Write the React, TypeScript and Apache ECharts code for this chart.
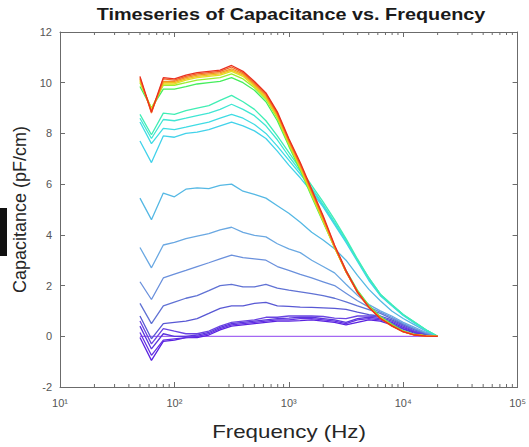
import React, { useEffect, useRef } from "react";
import * as echarts from "echarts";

// Frequencies (Hz) of the sweep
const FREQ_HZ = [50, 63, 80, 100, 126, 158, 200, 251, 316, 398, 501, 631, 794, 1000, 1259, 1585, 1995, 2512, 3162, 3981, 5012, 6310, 7943, 10000, 12589, 15849, 20000];

// Capacitance (pF/cm) per time step, earliest (violet) to latest (red)
const T01 = [0, 0, 0, 0, 0, 0, 0, 0, 0, 0, 0, 0, 0, 0, 0, 0, 0, 0, 0, 0, 0, 0, 0, 0, 0, 0, 0];
const T02 = [-0.05, -0.95, -0.2, -0.15, -0.05, -0.05, 0.05, 0.25, 0.4, 0.45, 0.5, 0.55, 0.6, 0.6, 0.62, 0.65, 0.6, 0.55, 0.45, 0.55, 0.65, 0.6, 0.45, 0.28, 0.12, 0.04, 0];
const T03 = [0.15, -0.75, -0.15, -0.1, -0.05, 0.0, 0.1, 0.3, 0.45, 0.5, 0.55, 0.6, 0.65, 0.65, 0.7, 0.7, 0.65, 0.6, 0.5, 0.65, 0.7, 0.65, 0.5, 0.3, 0.15, 0.05, 0];
const T04 = [0.4, -0.5, 0.1, 0.0, 0.0, 0.05, 0.15, 0.35, 0.5, 0.55, 0.6, 0.65, 0.7, 0.72, 0.75, 0.75, 0.7, 0.65, 0.55, 0.7, 0.75, 0.7, 0.55, 0.35, 0.18, 0.06, 0];
const T05 = [0.6, -0.3, 0.3, 0.2, 0.1, 0.1, 0.2, 0.4, 0.55, 0.6, 0.65, 0.75, 0.75, 0.8, 0.8, 0.8, 0.78, 0.72, 0.7, 0.8, 0.8, 0.75, 0.6, 0.4, 0.2, 0.08, 0];
const T06 = [0.8, -0.1, 0.5, 0.55, 0.6, 0.7, 0.9, 1.1, 1.2, 1.2, 1.3, 1.34, 1.2, 1.18, 1.15, 1.14, 1.12, 1.1, 1.06, 0.95, 0.85, 0.8, 0.65, 0.45, 0.25, 0.1, 0];
const T07 = [1.3, 0.5, 1.2, 1.35, 1.5, 1.6, 1.8, 2.0, 2.05, 1.95, 1.95, 2.05, 1.9, 1.82, 1.75, 1.68, 1.6, 1.5, 1.36, 1.2, 1.05, 0.9, 0.7, 0.48, 0.28, 0.1, 0];
const T08 = [2.15, 1.45, 2.3, 2.45, 2.6, 2.75, 2.9, 3.05, 3.2, 3.1, 3.05, 3.0, 2.75, 2.6, 2.44, 2.3, 2.15, 2.0, 1.7, 1.4, 1.15, 0.95, 0.75, 0.5, 0.3, 0.12, 0];
const T09 = [3.5, 2.7, 3.6, 3.7, 3.85, 3.95, 4.05, 4.2, 4.3, 4.1, 3.98, 3.92, 3.65, 3.45, 3.3, 3.0, 2.75, 2.5, 2.05, 1.62, 1.25, 1.0, 0.8, 0.55, 0.35, 0.15, 0];
const T10 = [5.45, 4.6, 5.65, 5.5, 5.8, 5.85, 5.82, 5.95, 6.0, 5.72, 5.6, 5.45, 5.15, 4.85, 4.5, 4.1, 3.8, 3.45, 3.0, 2.4, 1.85, 1.4, 1.0, 0.7, 0.45, 0.2, 0];
const T11 = [7.7, 6.85, 7.9, 7.85, 8.0, 8.05, 8.15, 8.3, 8.45, 8.3, 8.1, 7.8, 7.3, 6.75, 6.25, 5.7, 5.1, 4.4, 3.7, 2.95, 2.2, 1.6, 1.2, 0.82, 0.52, 0.24, 0];
const T12 = [8.45, 7.6, 8.2, 8.15, 8.25, 8.35, 8.45, 8.6, 8.75, 8.6, 8.35, 8.0, 7.5, 6.95, 6.4, 5.8, 5.15, 4.45, 3.75, 3.0, 2.25, 1.62, 1.22, 0.84, 0.54, 0.25, 0];
const T13 = [8.6, 7.8, 8.55, 8.5, 8.6, 8.7, 8.8, 8.95, 9.15, 8.95, 8.7, 8.3, 7.75, 7.1, 6.5, 5.85, 5.2, 4.5, 3.8, 3.0, 2.3, 1.66, 1.24, 0.86, 0.55, 0.25, 0];
const T14 = [8.75, 7.95, 8.8, 8.75, 8.9, 9.0, 9.1, 9.3, 9.5, 9.25, 8.95, 8.5, 7.9, 7.25, 6.6, 5.95, 5.3, 4.6, 3.85, 3.05, 2.3, 1.66, 1.25, 0.86, 0.56, 0.26, 0];
const T15 = [9.85, 9.0, 9.75, 9.75, 9.85, 9.95, 10.0, 10.05, 10.2, 10.0, 9.7, 9.25, 8.5, 7.5, 6.55, 5.5, 4.5, 3.5, 2.6, 1.82, 1.22, 0.78, 0.48, 0.22, 0.08, 0.03, 0];
const T16 = [10.0, 9.0, 9.9, 9.9, 10.0, 10.1, 10.15, 10.2, 10.35, 10.15, 9.8, 9.35, 8.6, 7.55, 6.6, 5.55, 4.55, 3.5, 2.55, 1.78, 1.18, 0.75, 0.45, 0.2, 0.07, 0.02, 0];
const T17 = [10.05, 8.95, 9.95, 9.95, 10.1, 10.2, 10.25, 10.3, 10.45, 10.25, 9.85, 9.4, 8.65, 7.6, 6.65, 5.6, 4.55, 3.5, 2.55, 1.75, 1.15, 0.72, 0.42, 0.18, 0.06, 0.02, 0];
const T18 = [10.1, 8.9, 10.0, 10.0, 10.15, 10.25, 10.3, 10.35, 10.5, 10.3, 9.9, 9.45, 8.7, 7.65, 6.7, 5.65, 4.6, 3.5, 2.55, 1.75, 1.15, 0.72, 0.42, 0.18, 0.06, 0.02, 0];
const T19 = [10.15, 8.85, 10.05, 10.05, 10.2, 10.3, 10.35, 10.4, 10.55, 10.35, 9.95, 9.5, 8.75, 7.7, 6.75, 5.7, 4.65, 3.55, 2.55, 1.75, 1.15, 0.72, 0.42, 0.18, 0.06, 0.02, 0];
const T20 = [10.2, 8.8, 10.15, 10.1, 10.25, 10.35, 10.4, 10.45, 10.62, 10.4, 10.0, 9.55, 8.8, 7.75, 6.8, 5.75, 4.7, 3.55, 2.55, 1.72, 1.12, 0.7, 0.4, 0.17, 0.05, 0.01, 0];
const T21 = [10.25, 8.85, 10.2, 10.15, 10.3, 10.4, 10.45, 10.5, 10.68, 10.45, 10.05, 9.6, 8.85, 7.8, 6.85, 5.8, 4.75, 3.6, 2.6, 1.75, 1.15, 0.7, 0.42, 0.18, 0.05, 0.01, 0];

const SERIES_VALUES = [T01, T02, T03, T04, T05, T06, T07, T08, T09, T10, T11, T12, T13, T14, T15, T16, T17, T18, T19, T20, T21];
const SERIES_NAMES = ["t01", "t02", "t03", "t04", "t05", "t06", "t07", "t08", "t09", "t10", "t11", "t12", "t13", "t14", "t15", "t16", "t17", "t18", "t19", "t20", "t21"];

// Axis settings and tick values
const Y_MIN = -2;
const Y_MAX = 12;
const Y_STEP = 2;
const X_MIN = 10;
const X_MAX = 100000;
const SUPERSCRIPTS = ["⁰", "¹", "²", "³", "⁴", "⁵"];
const MINOR_TICKS = [20, 30, 40, 50, 60, 70, 80, 90, 200, 300, 400, 500, 600, 700, 800, 900, 2000, 3000, 4000, 5000, 6000, 7000, 8000, 9000, 20000, 30000, 40000, 50000, 60000, 70000, 80000, 90000];

const TITLE = "Timeseries of Capacitance vs. Frequency";
const X_NAME = "Frequency (Hz)";
const Y_NAME = "Capacitance (pF/cm)";

// Styles
const LINE_COLORS = [
  "#a468f2", "#5a22e0", "#6430e4", "#5b36dc", "#6a44e2", "#5858d4", "#6072d4",
  "#6a90dc", "#6aa8e2", "#55b8e4", "#42d2ea", "#40dce4", "#40e6d4", "#40eeb4",
  "#44ee5c", "#9aee30", "#e2e020", "#f2c020", "#f29424", "#f26424", "#ea3020",
];
const FONT = "'Liberation Sans', Arial, Helvetica, sans-serif";
const AXIS_COLOR = "#6b6b6b";
const LABEL_COLOR = "#555555";
const STRETCH_X = 1.24;

export default function App() {
  const ref = useRef<HTMLDivElement>(null);

  useEffect(() => {
    if (!ref.current) return;
    const chart = echarts.init(ref.current, undefined, { renderer: "svg" });

    const fmtX = (v: number) => {
      const e = Math.round(Math.log10(v));
      return "10" + (SUPERSCRIPTS[e] ?? "");
    };

    const lineSeries = SERIES_VALUES.map((vals, i) => ({
      name: SERIES_NAMES[i],
      type: "line",
      xAxisIndex: 0,
      yAxisIndex: 0,
      showSymbol: false,
      symbol: "none",
      data: FREQ_HZ.map((f, j) => [f, vals[j]]),
      lineStyle: { width: 1.3, color: LINE_COLORS[i] },
      itemStyle: { color: LINE_COLORS[i] },
      z: 2,
      silent: true,
    }));

    const minorTickSeries = {
      type: "custom",
      xAxisIndex: 0,
      yAxisIndex: 0,
      silent: true,
      clip: false,
      z: 5,
      data: MINOR_TICKS.map((v) => [v, 0]),
      renderItem: (params: any, api: any) => {
        const b = api.coord([api.value(0), Y_MIN]);
        const t = api.coord([api.value(0), Y_MAX]);
        return {
          type: "group",
          children: [
            { type: "line", shape: { x1: b[0], y1: b[1], x2: b[0], y2: b[1] - 3 }, style: { stroke: AXIS_COLOR, lineWidth: 1 } },
            { type: "line", shape: { x1: t[0], y1: t[1], x2: t[0], y2: t[1] + 3 }, style: { stroke: AXIS_COLOR, lineWidth: 1 } },
          ],
        };
      },
    };

    const xAxisBase = {
      type: "log",
      logBase: 10,
      min: X_MIN,
      max: X_MAX,
      axisLine: { show: true, onZero: false, lineStyle: { color: AXIS_COLOR, width: 1 } },
      axisTick: { show: true, inside: true, length: 5, lineStyle: { color: AXIS_COLOR } },
      splitLine: { show: false },
    };

    const yAxisBase = {
      type: "value",
      min: Y_MIN,
      max: Y_MAX,
      interval: Y_STEP,
      axisLine: { show: true, onZero: false, lineStyle: { color: AXIS_COLOR, width: 1 } },
      axisTick: { show: true, inside: true, length: 5, lineStyle: { color: AXIS_COLOR } },
      splitLine: { show: false },
    };

    const option: any = {
      animation: false,
      backgroundColor: "#ffffff",
      textStyle: { fontFamily: FONT },
      grid: { left: 60, top: 32, right: 10, bottom: 60, containLabel: false },
      xAxis: [
        {
          ...xAxisBase,
          position: "bottom",
          axisLabel: { formatter: fmtX, fontFamily: FONT, fontSize: 11, color: LABEL_COLOR, margin: 10 },
        },
        {
          ...xAxisBase,
          position: "top",
          axisLabel: { show: false },
        },
      ],
      yAxis: [
        {
          ...yAxisBase,
          position: "left",
          name: Y_NAME,
          nameLocation: "middle",
          nameGap: 26,
          nameTextStyle: { fontFamily: FONT, fontSize: 18, color: "#262626" },
          axisLabel: { fontFamily: FONT, fontSize: 11, color: LABEL_COLOR, margin: 8 },
        },
        {
          ...yAxisBase,
          position: "right",
          axisLabel: { show: false },
        },
      ],
      graphic: [
        {
          type: "text",
          x: 291,
          y: 15,
          scaleX: STRETCH_X,
          style: {
            text: TITLE,
            font: `bold 16px ${FONT}`,
            fill: "#1a1a1a",
            textAlign: "center",
            textVerticalAlign: "middle",
          },
          z: 10,
        },
        {
          type: "text",
          x: 289,
          y: 432,
          scaleX: STRETCH_X,
          style: {
            text: X_NAME,
            font: `18px ${FONT}`,
            fill: "#262626",
            textAlign: "center",
            textVerticalAlign: "middle",
          },
          z: 10,
        },
        { type: "rect", shape: { x: 0, y: 208, width: 7, height: 48 }, style: { fill: "#111111" }, z: 10 },
      ],
      series: [...lineSeries, minorTickSeries],
    };

    chart.setOption(option);
    return () => chart.dispose();
  }, []);

  return (
    <div
      ref={ref}
      style={{ position: "fixed", left: 0, top: 0, width: 529, height: 447, background: "#fff" }}
    />
  );
}
